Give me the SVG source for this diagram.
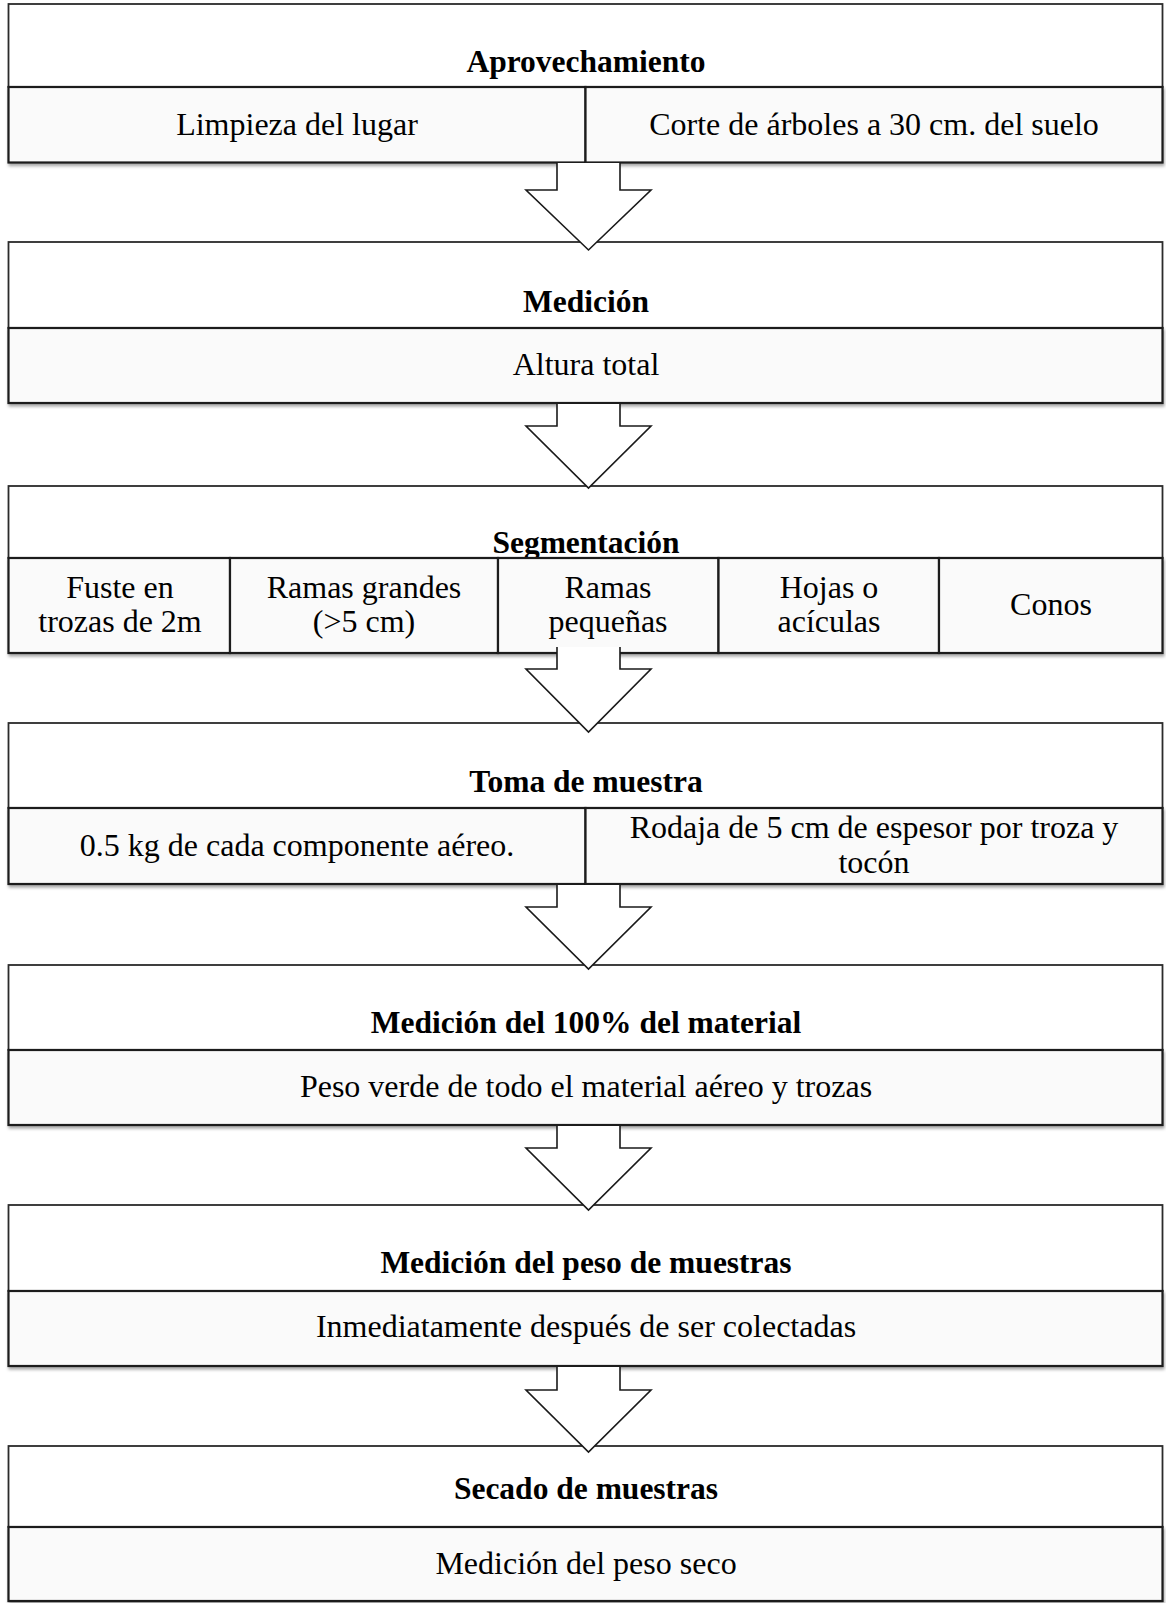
<svg xmlns="http://www.w3.org/2000/svg" width="1166" height="1603" viewBox="0 0 1166 1603">
<defs>
<filter id="sh" x="-2%" y="-20%" width="104%" height="150%">
<feDropShadow dx="1" dy="2.5" stdDeviation="1.6" flood-color="#000" flood-opacity="0.35"/>
</filter>
<style>
.ttl{fill:#fff;stroke:#2b2b2b;stroke-width:1.8}
.sub{fill:#fafafa;stroke:#1a1a1a;stroke-width:2.2}
.row{filter:url(#sh)}
.h{font-family:"Liberation Serif","Times New Roman",serif;font-weight:bold;font-size:31.5px;fill:#000;text-anchor:middle}
.t{font-family:"Liberation Serif","Times New Roman",serif;font-size:32px;fill:#000;text-anchor:middle}
.arr{fill:#fff;stroke:#1a1a1a;stroke-width:1.6;stroke-linejoin:miter}
</style>
</defs>
<rect width="1166" height="1603" fill="#fff"/>

<g id="n1">
<rect class="ttl" x="8.5" y="4" width="1154" height="83"/>
<text class="h" x="586" y="72">Aprovechamiento</text>
<g class="row">
<rect class="sub" x="8.5" y="87" width="577" height="75.5"/>
<rect class="sub" x="585.5" y="87" width="577" height="75.5"/>
</g>
<text class="t" x="297" y="135">Limpieza del lugar</text>
<text class="t" x="874" y="135">Corte de árboles a 30 cm. del suelo</text>
</g>

<g id="n2">
<rect class="ttl" x="8.5" y="242" width="1154" height="86"/>
<text class="h" x="586" y="312">Medición</text>
<g class="row">
<rect class="sub" x="8.5" y="328" width="1154" height="75"/>
</g>
<text class="t" x="586" y="375">Altura total</text>
</g>

<g id="n3">
<rect class="ttl" x="8.5" y="486" width="1154" height="72"/>
<text class="h" x="586" y="553">Segmentación</text>
<g class="row">
<rect class="sub" x="8.5" y="558" width="221.5" height="95"/>
<rect class="sub" x="230" y="558" width="268" height="95"/>
<rect class="sub" x="498" y="558" width="220.5" height="95"/>
<rect class="sub" x="718.5" y="558" width="220.5" height="95"/>
<rect class="sub" x="939" y="558" width="223.5" height="95"/>
</g>
<text class="t" x="120" y="598">Fuste en</text>
<text class="t" x="120" y="632">trozas de 2m</text>
<text class="t" x="364" y="598">Ramas grandes</text>
<text class="t" x="364" y="632">(&gt;5 cm)</text>
<text class="t" x="608" y="598">Ramas</text>
<text class="t" x="608" y="632">pequeñas</text>
<text class="t" x="829" y="598">Hojas o</text>
<text class="t" x="829" y="632">acículas</text>
<text class="t" x="1051" y="615">Conos</text>
</g>

<g id="n4">
<rect class="ttl" x="8.5" y="723" width="1154" height="85"/>
<text class="h" x="586" y="792">Toma de muestra</text>
<g class="row">
<rect class="sub" x="8.5" y="808" width="577" height="76"/>
<rect class="sub" x="585.5" y="808" width="577" height="76"/>
</g>
<text class="t" x="297" y="856">0.5 kg de cada componente aéreo.</text>
<text class="t" x="874" y="838">Rodaja de 5 cm de espesor por troza y</text>
<text class="t" x="874" y="873">tocón</text>
</g>

<g id="n5">
<rect class="ttl" x="8.5" y="965" width="1154" height="85"/>
<text class="h" x="586" y="1033">Medición del 100% del material</text>
<g class="row">
<rect class="sub" x="8.5" y="1050" width="1154" height="75"/>
</g>
<text class="t" x="586" y="1097">Peso verde de todo el material aéreo y trozas</text>
</g>

<g id="n6">
<rect class="ttl" x="8.5" y="1205" width="1154" height="86"/>
<text class="h" x="586" y="1273">Medición del peso de muestras</text>
<g class="row">
<rect class="sub" x="8.5" y="1291" width="1154" height="75"/>
</g>
<text class="t" x="586" y="1337">Inmediatamente después de ser colectadas</text>
</g>

<g id="n7">
<rect class="ttl" x="8.5" y="1446" width="1154" height="81"/>
<text class="h" x="586" y="1499">Secado de muestras</text>
<g class="row">
<rect class="sub" x="8.5" y="1527" width="1154" height="74"/>
</g>
<text class="t" x="586" y="1574">Medición del peso seco</text>
</g>

<g id="connectors">
<path class="arr" d="M557,163 V190 H526 L588.5,250 L651,190 H620 V163"/>
<path class="arr" d="M557,404 V426 H526 L588.5,488 L651,426 H620 V404"/>
<path class="arr" d="M557,647 V669 H526 L588.5,732 L651,669 H620 V647"/>
<path class="arr" d="M557,885 V907 H526 L588.5,969 L651,907 H620 V885"/>
<path class="arr" d="M557,1126 V1148 H526 L588.5,1210 L651,1148 H620 V1126"/>
<path class="arr" d="M557,1367 V1390 H526 L588.5,1452 L651,1390 H620 V1367"/>
</g>
</svg>
